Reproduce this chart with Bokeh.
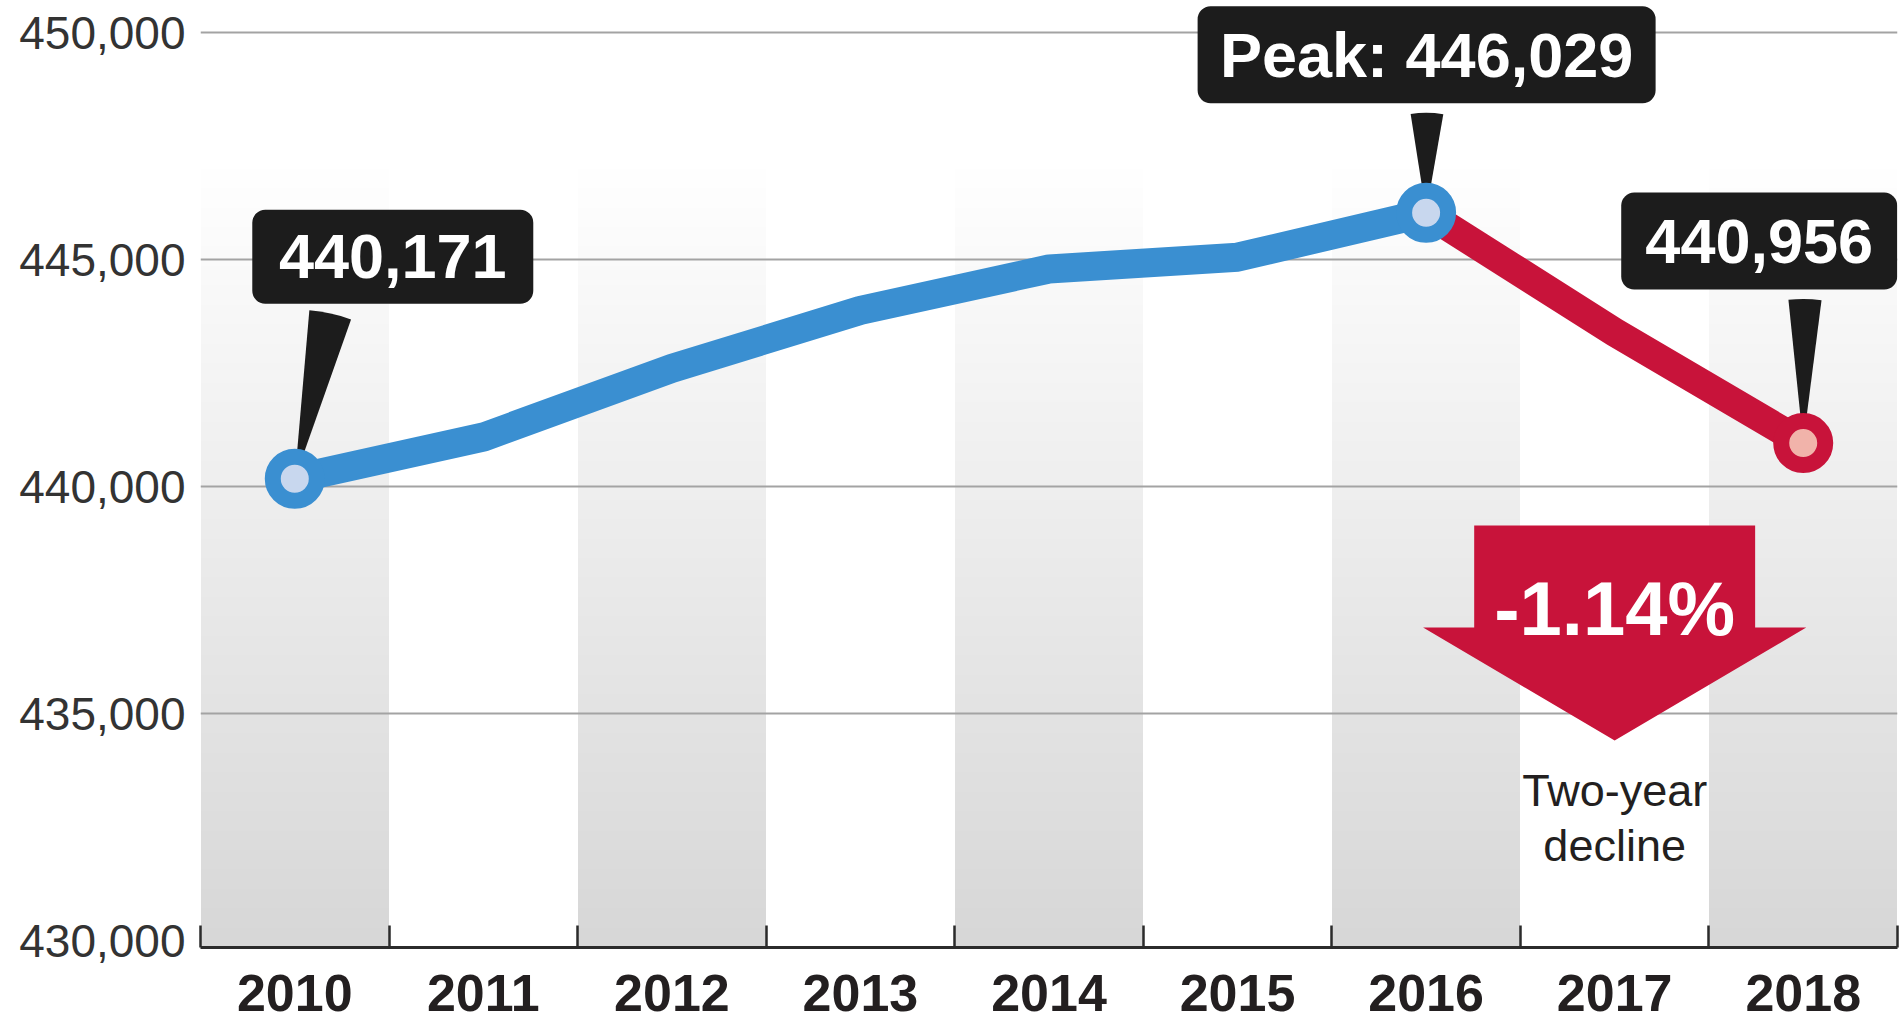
import numpy as np
from bokeh.plotting import figure
from bokeh.models import FixedTicker, NumeralTickFormatter, Label, Range1d, Quad
from bokeh.embed import file_html
from bokeh.resources import INLINE

# ---------------- data ----------------
years = ["2010", "2011", "2012", "2013", "2014", "2015", "2016", "2017", "2018"]
population = [440171, 441090, 442600, 443880, 444790, 445050, 446029, 443400, 440956]
y_ticks = [430000, 435000, 440000, 445000, 450000]
grid_ticks = [435000, 440000, 445000, 450000]
rise_years = ["2010", "2011", "2012", "2013", "2014", "2015", "2016"]
decline_years = ["2016", "2017", "2018"]
shaded_years = ["2010", "2012", "2014", "2016", "2018"]
callout_years = ["2010", "2016", "2018"]
callout_texts = ["440,171", "Peak: 446,029", "440,956"]
change_text = "-1.14%"
caption_lines = ["Two-year", "decline"]

# ---------------- styles / layout ----------------
BLUE = "#3a8fd1"
BLUE_FILL = "#c8d7ee"
RED = "#c8133a"
RED_FILL = "#f1b3aa"
BOX = "#1c1c1c"
FONT = "Liberation Sans"

W, H = 1901, 1024
LEFT, RIGHT, BOTTOM = 200, 4, 77
FW, FH = W - LEFT - RIGHT, H - BOTTOM
X0, X1 = -0.5, len(years) - 0.5
PX_Y = 0.0454                      # pixels per person
Y1 = 450000 + 32 / PX_Y
Y0 = Y1 - FH / PX_Y
PX_X = FW / (X1 - X0)

idx = {y: i for i, y in enumerate(years)}
val = {y: v for y, v in zip(years, population)}

p = figure(width=W, height=H, x_range=Range1d(X0, X1), y_range=Range1d(Y0, Y1),
           output_backend="svg", toolbar_location=None,
           min_border_left=LEFT, min_border_right=RIGHT, min_border_top=0,
           min_border_bottom=BOTTOM,
           background_fill_color="white", border_fill_color="white",
           outline_line_color=None)

# gradient bands (overlapping translucent slices)
GRAD_TOP = 447000
N = 40
tops = np.linspace(Y0, GRAD_TOP, N + 1)[1:]
bx, bt = [], []
for y in shaded_years:
    for t in tops:
        bx.append(idx[y])
        bt.append(t)
p.vbar(x=bx, top=bt, bottom=Y0, width=1.0, fill_color="#5f5d6b",
       fill_alpha=0.0089, line_color=None, level="image")

# grid
p.xgrid.visible = False
p.ygrid.ticker = FixedTicker(ticks=grid_ticks)
p.ygrid.grid_line_color = "#a3a3a3"
p.ygrid.grid_line_width = 2

# pointers (narrow wedges from the points toward the callout boxes)
ptr_angles = [77.8, 89.5, 89.3]
ptr_half = [7.25, 9.4, 6.6]
ptr_len = [169, 100, 144]
p.wedge(x=[idx[y] for y in callout_years], y=[val[y] for y in callout_years],
        radius=ptr_len, radius_units="screen",
        start_angle=[np.radians(a - h) for a, h in zip(ptr_angles, ptr_half)],
        end_angle=[np.radians(a + h) for a, h in zip(ptr_angles, ptr_half)],
        fill_color=BOX, line_color=None)

# lines
p.line(x=[idx[y] for y in rise_years], y=[val[y] for y in rise_years],
       line_color=BLUE, line_width=29, line_join="round", line_cap="round")
p.line(x=[idx[y] for y in decline_years], y=[val[y] for y in decline_years],
       line_color=RED, line_width=29, line_join="round", line_cap="round")

# point markers
p.scatter(x=[idx[y] for y in callout_years], y=[val[y] for y in callout_years],
          size=44, line_width=16,
          fill_color=[BLUE_FILL, BLUE_FILL, RED_FILL],
          line_color=[BLUE, BLUE, RED])

# callout boxes (offsets / sizes in screen pixels)
box_off = [(98, 222), (0.5, 158), (-44, 202)]
box_size = [(281, 94), (458, 97), (276, 97)]
ql, qr, qt, qb = [], [], [], []
for yr, (dx, dy), (bw, bh) in zip(callout_years, box_off, box_size):
    cx = idx[yr] + dx / PX_X
    cy = val[yr] + dy / PX_Y
    ql.append(cx - bw / 2 / PX_X)
    qr.append(cx + bw / 2 / PX_X)
    qt.append(cy + bh / 2 / PX_Y)
    qb.append(cy - bh / 2 / PX_Y)
qkw = dict(left=ql, right=qr, top=qt, bottom=qb, fill_color=BOX, line_color=None)
if "border_radius" in Quad.properties():
    qkw["border_radius"] = 13
p.quad(**qkw)
for yr, txt, (dx, dy) in zip(callout_years, callout_texts, box_off):
    p.add_layout(Label(x=idx[yr], y=val[yr], x_offset=dx, y_offset=dy, text=txt,
                       text_align="center", text_baseline="middle",
                       text_color="white", text_font=FONT, text_font_style="bold",
                       text_font_size="63px"))

# decline arrow
xm = (idx[decline_years[0]] + idx[decline_years[-1]]) / 2
SHAFT, WING = 0.745, 1.016
A_TOP, A_WING, A_TIP = 439141, 436894, 434405
p.patch(x=[xm - SHAFT, xm + SHAFT, xm + SHAFT, xm + WING, xm, xm - WING, xm - SHAFT],
        y=[A_TOP, A_TOP, A_WING, A_WING, A_TIP, A_WING, A_WING],
        fill_color=RED, line_color=None)
p.add_layout(Label(x=xm, y=437302, text=change_text, text_align="center",
                   text_baseline="middle", text_color="white",
                   text_font=FONT, text_font_style="bold",
                   text_font_size="76px"))
for line_txt, yc in zip(caption_lines, [433304, 432093]):
    p.add_layout(Label(x=xm, y=yc, text=line_txt, text_align="center",
                       text_baseline="middle", text_color="#231f20",
                       text_font=FONT, text_font_size="45px"))

# axes
p.xaxis.ticker = FixedTicker(ticks=list(range(len(years))),
                             minor_ticks=[i - 0.5 for i in range(len(years) + 1)])
p.xaxis.major_label_overrides = {i: y for i, y in enumerate(years)}
p.xaxis.axis_line_color = "#2b2b2b"
p.xaxis.axis_line_width = 3
p.xaxis.major_tick_in = 0
p.xaxis.major_tick_out = 0
p.xaxis.minor_tick_in = 22
p.xaxis.minor_tick_out = 0
p.xaxis.minor_tick_line_color = "#2b2b2b"
p.xaxis.minor_tick_line_width = 2.5
p.xaxis.major_label_text_font = FONT
p.xaxis.major_label_text_font_style = "bold"
p.xaxis.major_label_text_font_size = "52px"
p.xaxis.major_label_text_line_height = 0.75
p.xaxis.major_label_text_color = "#231f20"
p.xaxis.major_label_standoff = 27

p.yaxis.ticker = FixedTicker(ticks=y_ticks)
p.yaxis.formatter = NumeralTickFormatter(format="0,0")
p.yaxis.axis_line_color = None
p.yaxis.major_tick_in = 0
p.yaxis.major_tick_out = 0
p.yaxis.minor_tick_line_color = None
p.yaxis.major_label_text_font = FONT
p.yaxis.major_label_text_font_size = "46px"
p.yaxis.major_label_text_color = "#333333"
p.yaxis.major_label_standoff = 15

open("out.html", "w").write(file_html(p, INLINE))
